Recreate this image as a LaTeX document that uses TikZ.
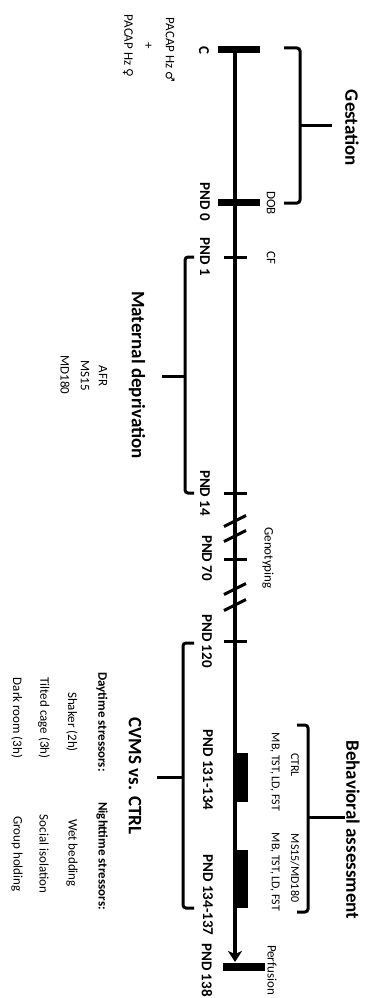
\documentclass[tikz,border=0pt]{standalone}
\usepackage{fontspec}
\setmainfont{Carlito}
\newfontfamily\symfont{DejaVu Sans}
\usetikzlibrary{arrows.meta}
\begin{document}
\begin{tikzpicture}[x=1pt,y=-1pt,
  lbl/.style={rotate=-90,inner sep=0pt,font=\fontsize{13}{15}\selectfont},
  small/.style={rotate=-90,inner sep=0pt,font=\fontsize{12}{14}\selectfont},
  pnd/.style={rotate=-90,inner sep=0pt,font=\fontsize{15}{17}\selectfont\bfseries},
  head/.style={rotate=-90,inner sep=0pt,font=\fontsize{19}{21}\selectfont\bfseries},
  sub/.style={rotate=-90,inner sep=0pt,font=\fontsize{13}{15}\selectfont\bfseries},
  axis/.style={line width=4pt},
  bar/.style={line width=7pt},
  tickmark/.style={line width=3pt},
  brk/.style={line width=3pt},
  brack/.style={line width=3pt,rounded corners=3pt},
  blk/.style={fill=black,draw=none}]
\useasboundingbox (0,0) rectangle (366,998);
% timeline points
\coordinate (tC) at (235,50);
\coordinate (tDOB) at (235,202);
\coordinate (tCF) at (235,257);
\coordinate (t14) at (235,493);
\coordinate (t70) at (235,559);
\coordinate (t120) at (235,641);
\coordinate (tEnd) at (235,962);
\coordinate (t138) at (235,967);
% main axis
\draw[axis,-{Stealth[length=11pt,width=14pt,inset=3pt]}] (tC) -- (tEnd);
% bars
\draw[bar] ([xshift=-17pt]tC) -- ([xshift=25pt]tC);
\draw[bar] ([xshift=-17pt]tDOB) -- ([xshift=25pt]tDOB);
\draw[line width=8pt] ([xshift=-12pt]t138) -- ([xshift=30pt]t138);
% ticks
\foreach \p in {tCF,t14,t70,t120}
  \draw[tickmark] ([xshift=-11pt]\p) -- ([xshift=12pt]\p);
% breaks
\foreach \yy in {521,536,589,605}
  \draw[brk] (246,\yy-5.5) -- (224,\yy+5.5);
% behavioral blocks
\path[blk] (237,753) rectangle (248,802);
\path[blk] (237,850) rectangle (248,908);
% brackets
\draw[brack] (284,48) -- (300,48) -- (300,203) -- (284,203);
\draw[line width=3pt] (300,125) -- (332,125);
\draw[brack] (194,257) -- (185,257) -- (185,493) -- (194,493);
\draw[line width=3pt] (185,376) -- (162,376);
\draw[brack] (194,643) -- (183,643) -- (183,908) -- (194,908);
\draw[line width=3pt] (183,777) -- (157,777);
\draw[brack] (297,725) -- (308,725) -- (308,912) -- (297,912);
\draw[line width=3pt] (308,817) -- (345,817);
% labels
\node[pnd] (lC) at (204,50) {C};
\node[lbl] (lPm) at (170,50) {PACAP Hz {\symfont\fontsize{12}{14}\selectfont ♂}};
\node[lbl] (lplus) at (148,46) {+};
\node[lbl] (lPf) at (128,46) {PACAP Hz {\symfont\fontsize{12}{14}\selectfont ♀}};
\node[head] (lGest) at (352,128) {Gestation};
\node[pnd] (l0) at (205,202) {PND 0};
\node[lbl] (lDOB) at (271,203) {DOB};
\node[pnd] (l1) at (205,257) {PND 1};
\node[lbl] (lCF) at (271,258) {CF};
\node[head] (lMat) at (137,375) {Maternal deprivation};
\node[lbl] (lAFR) at (103,376) {AFR};
\node[lbl] (lMS) at (85,376) {MS15};
\node[lbl] (lMD) at (65,375) {MD180};
\node[pnd] (l14) at (205,493) {PND 14};
\node[pnd] (l70) at (207,558) {PND 70};
\node[lbl] (lGeno) at (268,558) {Genotyping};
\node[pnd] (l120) at (207,641) {PND 120};
\node[head] (lCVMS) at (135,776) {CVMS vs. CTRL};
\node[sub] (lDay) at (102,722) {Daytime stressors:};
\node[sub] (lNight) at (102,856) {Nighttime stressors:};
\node[lbl] (lS1) at (72,722) {Shaker (2h)};
\node[lbl] (lS2) at (44,718) {Tilted cage (3h)};
\node[lbl] (lS3) at (17,718) {Dark room (3h)};
\node[lbl] (lN1) at (72,853) {Wet bedding};
\node[lbl] (lN2) at (44,854) {Social isolation};
\node[lbl] (lN3) at (17,854) {Group holding};
\node[pnd] (l131) at (208,770) {PND 131-134};
\node[pnd] (l134) at (208,895) {PND 134-137};
\node[small] (lCTRL) at (295,765) {CTRL};
\node[small] (lT1) at (275,772) {MB, TST, LD, FST};
\node[small] (lMSMD) at (295,868) {MS15/MD180};
\node[small] (lT2) at (275,872) {MB, TST, LD, FST};
\node[head] (lBeh) at (353,830) {Behavioral assessment};
\node[pnd] (l138) at (207,970) {PND 138};
\node[lbl] (lPerf) at (272,970) {Perfusion};
\end{tikzpicture}
\end{document}
